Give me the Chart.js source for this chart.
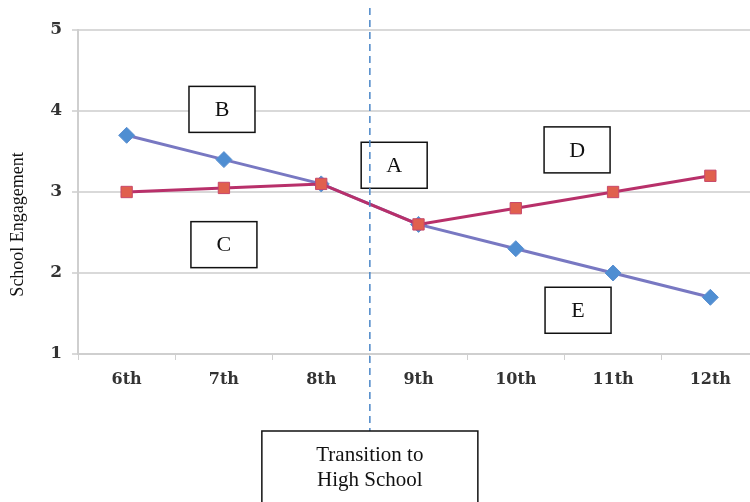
<!DOCTYPE html>
<html>
<head>
<meta charset="utf-8">
<script src="https://cdn.jsdelivr.net/npm/chart.js@4"></script>
<style>
  html, body { margin: 0; padding: 0; background: #fff; overflow: hidden; }
  #myChart { display: block; }
</style>
</head>
<body>
<canvas id="myChart" width="768" height="502"></canvas>
<script>
var grades = ['6th', '7th', '8th', '9th', '10th', '11th', '12th'];
var seriesDiamond = [3.7, 3.4, 3.1, 2.6, 2.3, 2.0, 1.7];
var seriesSquare = [3.0, 3.05, 3.1, 2.6, 2.8, 3.0, 3.2];
var yTicks = [1, 2, 3, 4, 5];

// letter boxes placed in data coordinates (category index, value)
var boxLabels = ['A', 'B', 'C', 'D', 'E'];
var boxIndex = [2.75, 0.98, 1.0, 4.63, 4.64];
var boxValue = [3.33, 4.02, 2.35, 3.52, 1.54];

// transition happens between 8th and 9th
var transitionAt = 2.5;
var transitionText = ['Transition to', 'High School'];

var annotations = {
    id: 'annotations',
    afterDraw(chart) {
        var ctx = chart.ctx;
        var x = chart.scales.x;
        var y = chart.scales.y;
        var px = function (i) {
            var a = x.getPixelForValue(Math.floor(i));
            var b = x.getPixelForValue(Math.floor(i) + 1);
            return a + (b - a) * (i - Math.floor(i));
        };

        ctx.save();
        // y axis title, sits a bit below the plot middle
        ctx.fillStyle = '#111';
        ctx.font = '18px "Liberation Serif"';
        ctx.textAlign = 'center';
        ctx.textBaseline = 'middle';
        ctx.translate(18, y.getPixelForValue(2.6));
        ctx.rotate(-Math.PI / 2);
        ctx.fillText('School Engagement', 0, 0);
        ctx.setTransform(1, 0, 0, 1, 0, 0);

        // letter boxes
        ctx.strokeStyle = '#111';
        ctx.lineWidth = 1.5;
        boxLabels.forEach(function (lab, k) {
            var cx = px(boxIndex[k]);
            var cy = y.getPixelForValue(boxValue[k]);
            ctx.fillStyle = '#fff';
            ctx.fillRect(cx - 33, cy - 23, 66, 46);
            ctx.strokeRect(cx - 33, cy - 23, 66, 46);
            ctx.fillStyle = '#111';
            ctx.font = '22px "Liberation Serif"';
            ctx.fillText(lab, cx, cy + 1);
        });

        // dashed transition line (runs over box A)
        var tx = px(transitionAt);
        var boxTop = chart.chartArea.bottom + 77;
        ctx.strokeStyle = '#4a86c8';
        ctx.setLineDash([7, 5]);
        ctx.beginPath();
        ctx.moveTo(tx, 8);
        ctx.lineTo(tx, boxTop);
        ctx.stroke();
        ctx.setLineDash([]);

        // transition box
        ctx.fillStyle = '#fff';
        ctx.strokeStyle = '#111';
        ctx.fillRect(tx - 108, boxTop, 216, 90);
        ctx.strokeRect(tx - 108, boxTop, 216, 90);
        ctx.fillStyle = '#111';
        ctx.font = '21px "Liberation Serif"';
        ctx.fillText(transitionText[0], tx, boxTop + 24);
        ctx.fillText(transitionText[1], tx, boxTop + 49);
        ctx.restore();
    }
};

var ctx = document.getElementById('myChart').getContext('2d');
var myChart = new Chart(ctx, {
    type: 'line',
    data: {
        labels: grades,
        datasets: [{
            label: 'square',
            data: seriesSquare,
            borderColor: '#b8306a',
            borderWidth: 3,
            pointStyle: 'rect',
            pointRadius: 8,
            pointBackgroundColor: '#e0604e',
            pointBorderColor: '#c8486a',
            pointBorderWidth: 1,
            tension: 0
        }, {
            label: 'diamond',
            data: seriesDiamond,
            borderColor: '#7878c2',
            borderWidth: 3,
            pointStyle: 'rectRot',
            pointRadius: 8,
            pointBackgroundColor: '#4f8ed2',
            pointBorderColor: '#5a8fd0',
            pointBorderWidth: 1,
            tension: 0
        }]
    },
    options: {
        responsive: false,
        animation: false,
        devicePixelRatio: 1,
        layout: { padding: { top: 30, right: 3, bottom: 108, left: 0 } },
        plugins: { legend: { display: false }, tooltip: { enabled: false } },
        scales: {
            x: {
                offset: true,
                afterFit: function (s) { s.height = 40; },
                grid: {
                    display: true,
                    drawOnChartArea: false,
                    offset: true,
                    tickLength: 6,
                    color: '#d0d0d0'
                },
                border: { color: '#cfcfcf', width: 2 },
                ticks: {
                    color: '#333',
                    padding: 10,
                    font: { family: '"DejaVu Serif"', size: 16, weight: 'bold' }
                }
            },
            y: {
                min: 1,
                max: 5,
                afterFit: function (s) { s.width = 78; },
                afterBuildTicks: function (s) { s.ticks = yTicks.map(function (v) { return { value: v }; }); },
                grid: { color: '#d9d9d9', lineWidth: 2, tickLength: 6 },
                border: { color: '#cfcfcf', width: 2 },
                ticks: {
                    color: '#333',
                    padding: 10,
                    font: { family: '"DejaVu Serif"', size: 17, weight: 'bold' }
                }
            }
        }
    },
    plugins: [annotations]
});
</script>
</body>
</html>
